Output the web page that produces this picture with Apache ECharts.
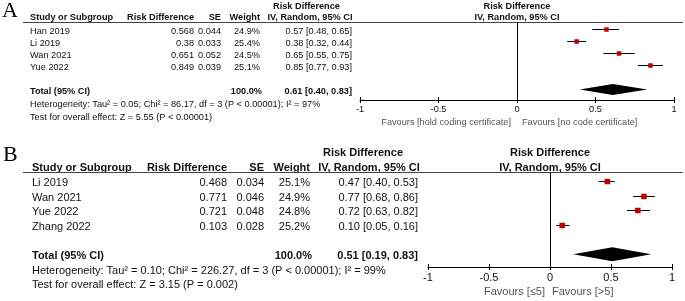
<!DOCTYPE html>
<html><head><meta charset="utf-8">
<script src="https://cdn.jsdelivr.net/npm/echarts@6/dist/echarts.min.js"></script>
<style>html,body{margin:0;padding:0;background:#fff}#c{width:685px;height:301px}</style>
</head><body><div id="c"></div><script>
// ---------- Panel A data ----------
const studiesA = ['Han 2019', 'Li 2019', 'Wan 2021', 'Yue 2022'];
const rdA = ['0.568', '0.38', '0.651', '0.849'];
const seA = ['0.044', '0.033', '0.052', '0.039'];
const weightA = ['24.9%', '25.4%', '24.5%', '25.1%'];
const estA = [0.57, 0.38, 0.65, 0.85];
const loA = [0.48, 0.32, 0.55, 0.77];
const hiA = [0.65, 0.44, 0.75, 0.93];
const totalA = [0.61, 0.40, 0.83];
const totalWeightA = '100.0%';
const hetA = 'Heterogeneity: Tau\u00b2 = 0.05; Chi\u00b2 = 86.17, df = 3 (P < 0.00001); I\u00b2 = 97%';
const testA = 'Test for overall effect: Z = 5.55 (P < 0.00001)';
const favA = ['Favours [hold coding certificate]', 'Favours [no code certificate]'];

// ---------- Panel B data ----------
const studiesB = ['Li 2019', 'Wan 2021', 'Yue 2022', 'Zhang 2022'];
const rdB = ['0.468', '0.771', '0.721', '0.103'];
const seB = ['0.034', '0.046', '0.048', '0.028'];
const weightB = ['25.1%', '24.9%', '24.8%', '25.2%'];
const estB = [0.47, 0.77, 0.72, 0.10];
const loB = [0.40, 0.68, 0.63, 0.05];
const hiB = [0.53, 0.86, 0.82, 0.16];
const totalB = [0.51, 0.19, 0.83];
const totalWeightB = '100.0%';
const hetB = 'Heterogeneity: Tau\u00b2 = 0.10; Chi\u00b2 = 226.27, df = 3 (P < 0.00001); I\u00b2 = 99%';
const testB = 'Test for overall effect: Z = 3.15 (P = 0.002)';
const favB = ['Favours [\u22645]', 'Favours [>5]'];

const axisTicks = [-1, -0.5, 0, 0.5, 1];
const colHeaders = ['Study or Subgroup', 'Risk Difference', 'SE', 'Weight'];
const ciHeaders = ['Risk Difference', 'IV, Random, 95% CI'];
const totalLabel = 'Total (95% CI)';

const FONT = 'Arial, "Liberation Sans", sans-serif';
const TXT = '#111';

const panels = [
  { letter: 'A', studies: studiesA, rd: rdA, se: seA, w: weightA, est: estA, lo: loA, hi: hiA,
    total: totalA, tw: totalWeightA, het: hetA, test: testA, fav: favA,
    L: { fs: 9.2, letterX: 2, letterY: 22, grid: { left: 360, top: 22, width: 314, height: 78 },
      row0: 29.3, step: 12.05, txtOff: 2, study: 30, rdX: 194, seX: 221, wX: 260, ciX: 352,
      rdHeadC: 306.5, ivHeadC: 310, plotC: 517, h1: 6, h2: 17, line: [23, 683], hetY: 104, testY: 117,
      favY: 122, favL: 511, favR: 522, sq: 4.5, dh: 5.5, lblMargin: 5 } },
  { letter: 'B', studies: studiesB, rd: rdB, se: seB, w: weightB, est: estB, lo: loB, hi: hiB,
    total: totalB, tw: totalWeightB, het: hetB, test: testB, fav: favB,
    L: { fs: 11, letterX: 3, letterY: 166, grid: { left: 428, top: 172, width: 244, height: 95 },
      row0: 181, step: 14.67, txtOff: 2, study: 32, rdX: 227, seX: 264, wX: 310, ciX: 418,
      rdHeadC: 363, ivHeadC: 369, plotC: 550, h1: 153, h2: 167.5, line: [23, 683], hetY: 270.5, testY: 284.5,
      favY: 292, favL: 545, favR: 552, sq: 5.5, dh: 7, lblMargin: 5 } }
];

const chart = echarts.init(document.getElementById('c'), null, { renderer: 'canvas' });

const grids = [], xAxes = [], yAxes = [], series = [];
panels.forEach((p, i) => {
  const L = p.L;
  grids.push({ left: L.grid.left, top: L.grid.top, width: L.grid.width, height: L.grid.height, containLabel: false });
  const yMin = (L.grid.top - L.row0) / L.step;
  const yMax = (L.grid.top + L.grid.height - L.row0) / L.step;
  yAxes.push({ type: 'value', gridIndex: i, inverse: true, min: yMin, max: yMax, show: false });
  xAxes.push({
    type: 'value', gridIndex: i, position: 'bottom', min: axisTicks[0], max: axisTicks[axisTicks.length - 1], interval: 0.5,
    axisLine: { show: true, onZero: false, lineStyle: { color: '#000', width: 1 } },
    axisTick: { show: true, length: 3, lineStyle: { color: '#000' } },
    axisLabel: { show: true, fontSize: L.fs, color: TXT, fontFamily: FONT, margin: L.lblMargin },
    splitLine: { show: false }
  });
  xAxes.push({
    type: 'value', gridIndex: i, position: 'bottom', min: axisTicks[0], max: axisTicks[axisTicks.length - 1], interval: 0.5,
    axisLine: { show: false, onZero: false },
    axisTick: { show: true, inside: true, length: 3, lineStyle: { color: '#000' } },
    axisLabel: { show: false }, splitLine: { show: false }
  });
  const sq = L.sq;
  series.push({
    type: 'custom', xAxisIndex: 2 * i, yAxisIndex: i, clip: false, silent: true,
    data: p.studies.map((s, k) => [p.lo[k], p.hi[k], p.est[k], k]),
    renderItem: (params, api) => {
      const a = api.coord([api.value(0), api.value(3)]);
      const b = api.coord([api.value(1), api.value(3)]);
      const c = api.coord([api.value(2), api.value(3)]);
      const y = Math.round(c[1]) + 0.5;
      return { type: 'group', children: [
        { type: 'line', shape: { x1: a[0], y1: y, x2: b[0], y2: y }, style: { stroke: '#000', lineWidth: 1 } },
        { type: 'rect', shape: { x: c[0] - sq / 2, y: y - sq / 2, width: sq, height: sq }, style: { fill: '#c00000' } }
      ] };
    },
    markLine: { silent: true, symbol: 'none', animation: false, label: { show: false },
      lineStyle: { color: '#000', width: 1, type: 'solid' }, data: [{ xAxis: 0 }] }
  });
  const dh = L.dh;
  series.push({
    type: 'custom', xAxisIndex: 2 * i, yAxisIndex: i, clip: false, silent: true,
    data: [[p.total[1], p.total[2], p.total[0], p.studies.length + 1]],
    renderItem: (params, api) => {
      const a = api.coord([api.value(0), api.value(3)]);
      const b = api.coord([api.value(1), api.value(3)]);
      const c = api.coord([api.value(2), api.value(3)]);
      return { type: 'polygon', shape: { points: [[a[0], c[1]], [c[0], c[1] - dh], [b[0], c[1]], [c[0], c[1] + dh]] },
        style: { fill: '#000' } };
    }
  });
});

chart.setOption({ animation: false, grid: grids, xAxis: xAxes, yAxis: yAxes, series: series });

// ---------- table text ----------
const G = [];
function txt(s, x, y, fs, align, bold, color) {
  G.push({ type: 'text', silent: true, style: {
    text: s, x: x, y: y, font: (bold ? 'bold ' : '') + fs + 'px ' + FONT,
    fill: color || TXT, textAlign: align, textVerticalAlign: 'middle', align: align, verticalAlign: 'middle' } });
}
panels.forEach((p, i) => {
  const L = p.L;
  G.push({ type: 'text', silent: true, style: { text: p.letter, x: L.letterX, y: L.letterY,
    font: '22px "Liberation Serif", "Times New Roman", serif', fill: '#000',
    textAlign: 'left', textVerticalAlign: 'bottom', align: 'left', verticalAlign: 'bottom' } });
  // headers
  txt(ciHeaders[0], L.rdHeadC, L.h1, L.fs, 'center', true);
  txt(ciHeaders[1], L.ivHeadC, L.h2, L.fs, 'center', true);
  txt(ciHeaders[0], L.plotC, L.h1, L.fs, 'center', true);
  txt(ciHeaders[1], L.plotC, L.h2, L.fs, 'center', true);
  txt(colHeaders[0], L.study, L.h2, L.fs, 'left', true);
  txt(colHeaders[1], L.rdX, L.h2, L.fs, 'right', true);
  txt(colHeaders[2], L.seX, L.h2, L.fs, 'right', true);
  txt(colHeaders[3], L.wX, L.h2, L.fs, 'right', true);
  const ly = L.grid.top + 0.5;
  G.push({ type: 'line', silent: true, shape: { x1: L.line[0], y1: ly, x2: L.line[1], y2: ly },
    style: { stroke: '#444', lineWidth: 1 } });
  // study rows
  p.studies.forEach((s, k) => {
    const y = chart.convertToPixel({ yAxisIndex: i }, k) + L.txtOff;
    txt(s, L.study, y, L.fs, 'left', false);
    txt(p.rd[k], L.rdX, y, L.fs, 'right', false);
    txt(p.se[k], L.seX, y, L.fs, 'right', false);
    txt(p.w[k], L.wX, y, L.fs, 'right', false);
    txt(p.est[k].toFixed(2) + ' [' + p.lo[k].toFixed(2) + ', ' + p.hi[k].toFixed(2) + ']', L.ciX, y, L.fs, 'right', false);
  });
  const ty = chart.convertToPixel({ yAxisIndex: i }, p.studies.length + 1) + L.txtOff;
  txt(totalLabel, L.study, ty, L.fs, 'left', true);
  txt(p.tw, L.wX + 2, ty, L.fs, 'right', true);
  txt(p.total[0].toFixed(2) + ' [' + p.total[1].toFixed(2) + ', ' + p.total[2].toFixed(2) + ']', L.ciX, ty, L.fs, 'right', true);
  txt(p.het, L.study, L.hetY, L.fs, 'left', false);
  txt(p.test, L.study, L.testY, L.fs, 'left', false);
  txt(p.fav[0], L.favL, L.favY, L.fs, 'right', false, '#555');
  txt(p.fav[1], L.favR, L.favY, L.fs, 'left', false, '#555');
});
chart.setOption({ graphic: { elements: G } });
</script></body></html>
